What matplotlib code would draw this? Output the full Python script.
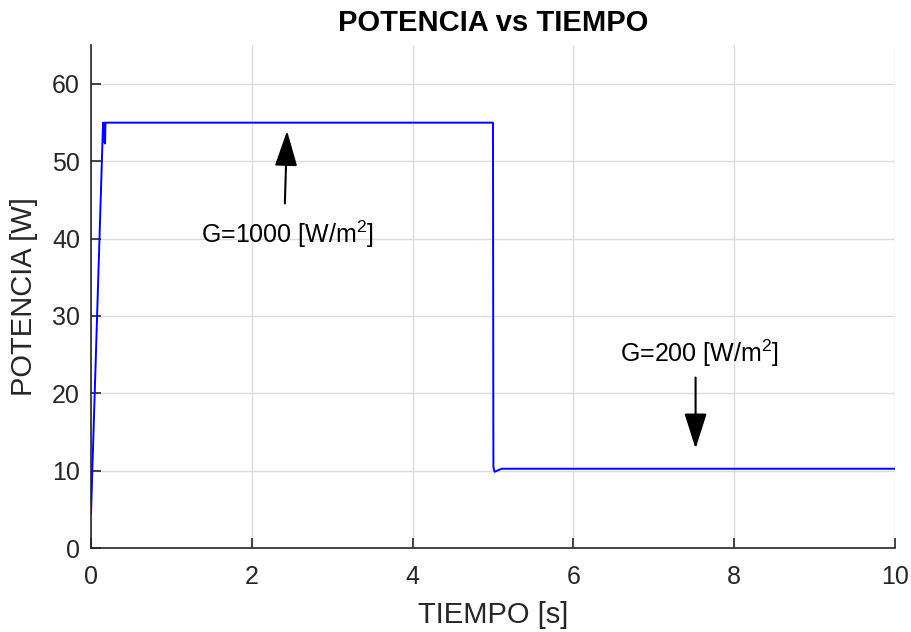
"""
POTENCIA vs TIEMPO: respuesta de potencia del panel ante un escalon de irradiancia.
"""

import matplotlib
matplotlib.use("Agg")
import matplotlib.pyplot as plt

plt.rcParams["font.family"] = ["Liberation Sans", "DejaVu Sans"]
plt.rcParams["mathtext.fontset"] = "custom"
plt.rcParams["mathtext.rm"] = "Liberation Sans"
plt.rcParams["mathtext.it"] = "Liberation Sans"

# ── Datos ─────────────────────────────────────────────────────────────────────
TIEMPO = [0.0, 0.15, 0.16, 0.17, 0.175, 0.18, 0.19, 0.25, 5.0, 5.005, 5.02, 5.05, 5.11, 10.0]
POTENCIA = [4.5, 55.0, 52.5, 55.0, 52.3, 55.0, 55.0, 55.0, 55.0, 10.5, 9.85, 10.0, 10.25, 10.25]

X_TICKS = [0, 2, 4, 6, 8, 10]
Y_TICKS = [0, 10, 20, 30, 40, 50, 60]

AXIS_COLOR = "#262626"

fig = plt.figure(figsize=(9.11, 6.32), dpi=100)
ax = fig.add_axes([0.0999, 0.1329, 0.8825, 0.7954])

ax.plot(TIEMPO, POTENCIA, color="#0000FF", lw=1.4, zorder=3)

ax.set_xlim(0, 10)
ax.set_ylim(0, 65)
ax.set_xticks(X_TICKS)
ax.set_yticks(Y_TICKS)
ax.grid(True, color="#DCDCDC", lw=1.0)
ax.set_axisbelow(True)

for side in ("top", "right"):
    ax.spines[side].set_visible(False)
for side in ("left", "bottom"):
    ax.spines[side].set_color(AXIS_COLOR)
    ax.spines[side].set_linewidth(1.2)

ax.tick_params(direction="in", length=7, width=1.2, colors=AXIS_COLOR,
               labelsize=18)
ax.tick_params(axis="x", pad=12)
ax.tick_params(axis="y", pad=8)

ax.set_title("POTENCIA vs TIEMPO", fontsize=21, fontweight="bold", pad=10)
ax.set_xlabel("TIEMPO [s]", fontsize=21, color=AXIS_COLOR, labelpad=9)
ax.set_ylabel("POTENCIA [W]", fontsize=21, color=AXIS_COLOR, labelpad=10)

# ── Anotaciones ──────────────────────────────────────────────────────────────
arrow = dict(arrowstyle="-|>,head_length=2.2,head_width=0.7",
             color="black", lw=1.5)
ax.annotate("", xy=(2.44, 54.3), xytext=(2.41, 44.2), arrowprops=arrow)
ax.text(2.44, 40.6, r"G=1000 [W/m$^2$]", ha="center", va="center", fontsize=18)

ax.annotate("", xy=(7.52, 12.5), xytext=(7.52, 22.4), arrowprops=arrow)
ax.text(7.57, 25.2, r"G=200 [W/m$^2$]", ha="center", va="center", fontsize=18)

fig.savefig("out.png", dpi=100, facecolor="white")
